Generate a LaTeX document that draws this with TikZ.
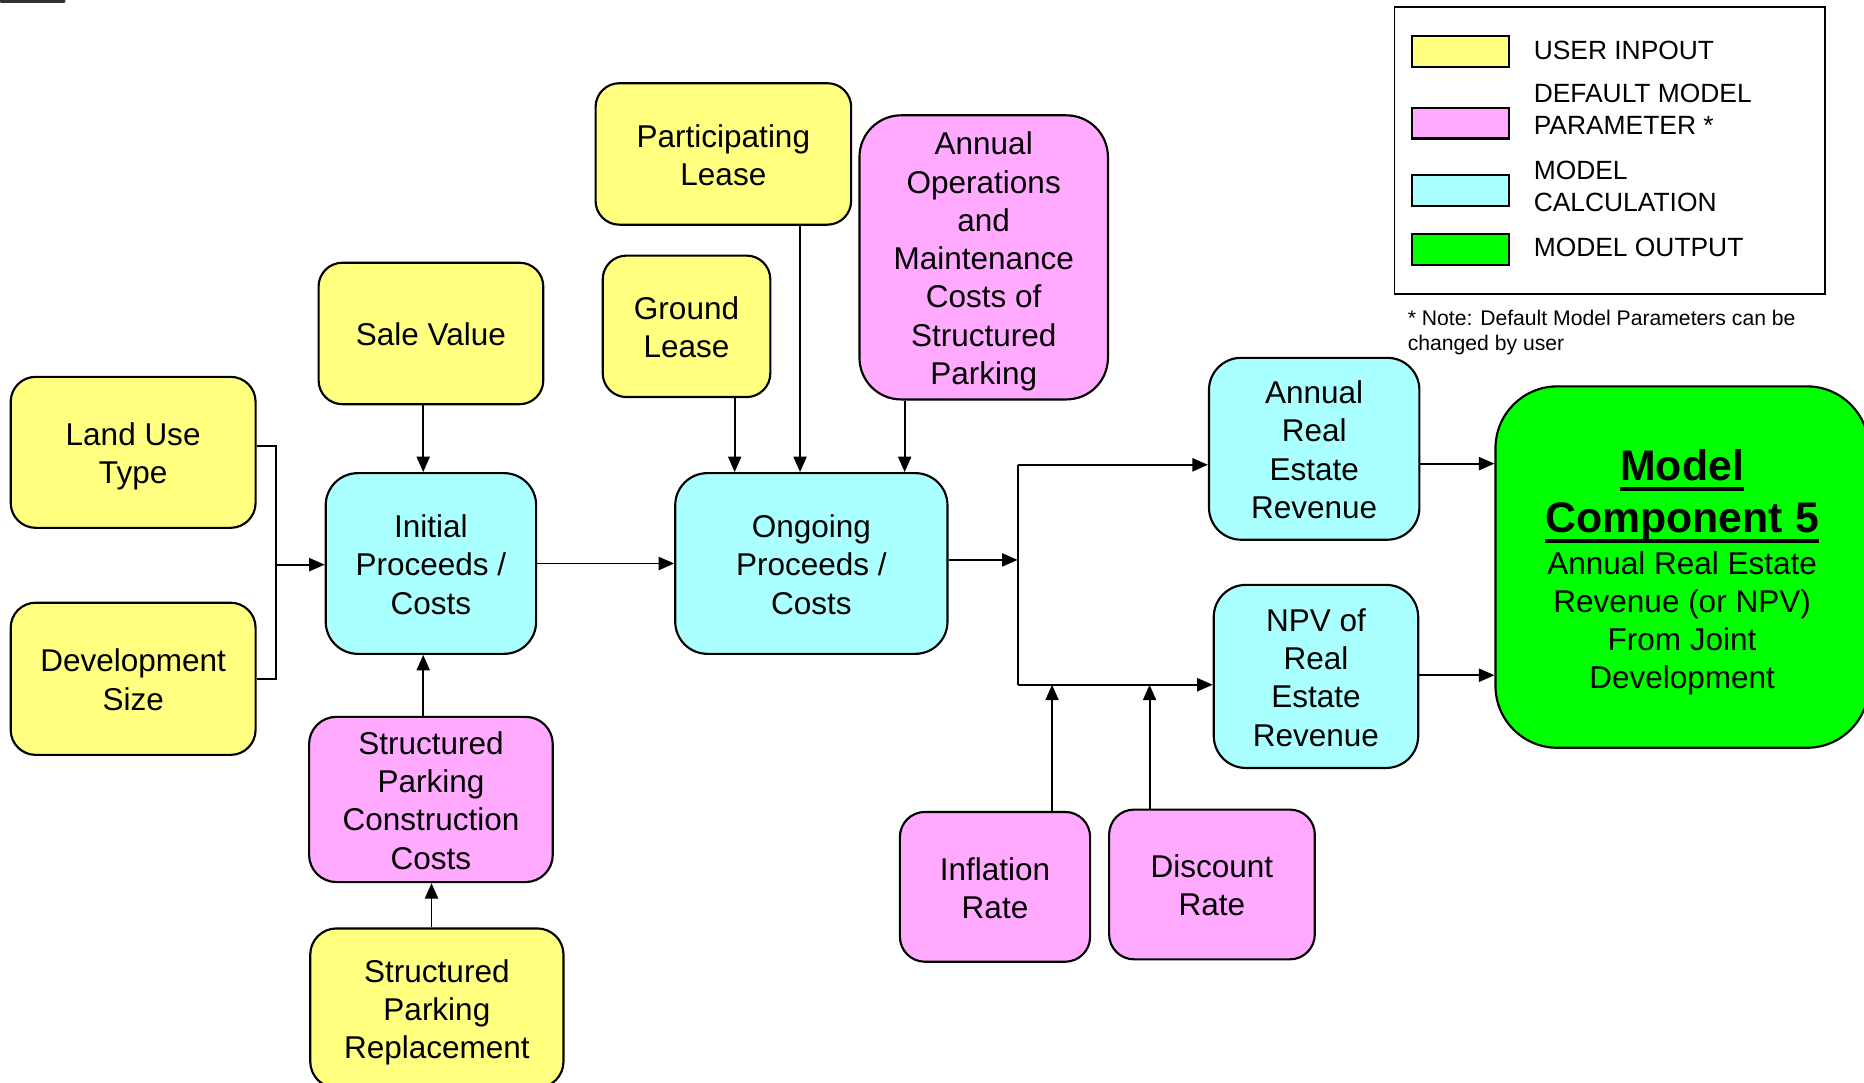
\documentclass[tikz,border=0pt]{standalone}
\usepackage{fontspec}
\setmainfont{Liberation Sans}
\usetikzlibrary{arrows.meta}

\definecolor{inyellow}{RGB}{255,255,128}
\definecolor{parpink}{RGB}{255,170,255}
\definecolor{calccyan}{RGB}{170,255,255}
\definecolor{outgreen}{RGB}{0,255,0}

\newcommand\bxfont{\fontsize{26.5}{32.2}\selectfont}
\newcommand\lgfont{\fontsize{22.2}{27}\selectfont}
\newcommand\ntfont{\fontsize{17.8}{21}\selectfont}
\newcommand\ttlfont{\fontsize{36}{43}\selectfont\bfseries}
% fixed height for the first line of a box label
\newcommand\fl{\rule{0pt}{26.3pt}}
% thick underline for the output title
\newcommand\thul[1]{\setbox0\hbox{#1}\rlap{\rule[-9pt]{\wd0}{3.4pt}}\box0}

\tikzset{
  box/.style={draw=black, line width=1.8pt, rounded corners=#1, inner sep=0pt,
              align=center, font=\bxfont,
              % fixed last-line depth keeps the label centred
              execute at end node={\rule[-5.6pt]{0pt}{0pt}}},
  box/.default=21pt,
  user/.style={box=#1, fill=inyellow}, user/.default=21pt,
  param/.style={box=#1, fill=parpink}, param/.default=21pt,
  calc/.style={box=#1, fill=calccyan}, calc/.default=21pt,
  outp/.style={box=#1, fill=outgreen}, outp/.default=21pt,
  swatch/.style={draw=black, line width=1.8pt, inner sep=0pt,
                 minimum width=81pt, minimum height=26pt},
  lgtext/.style={anchor=west, inner sep=0pt, align=left, font=\lgfont},
  conn/.style={line width=1.6pt},
  arr/.style={conn, -{Triangle[length=13pt,width=11pt]}}
}

\begin{document}
\begin{tikzpicture}[x=1pt,y=-1pt]
\useasboundingbox (0,0) rectangle (1568,911);

% small dark mark in the top left corner
\fill[black!80, rounded corners=1pt] (0,-3) rectangle (55,2.5);

% ---- inputs on the left
\node[user, minimum width=206pt, minimum height=127pt] (landuse) at (112,380.5) {\fl Land Use\\Type};
\node[user, minimum width=206pt, minimum height=128pt] (devsize) at (112,571) {\fl Development\\Size};
\node[user=20pt, minimum width=189pt, minimum height=119pt] (sale) at (362.5,280.5) {\fl Sale Value};
\node[calc=27pt, minimum width=177pt, minimum height=152pt] (initial) at (362.5,474) {\fl Initial\\Proceeds /\\Costs};
\node[param=23pt, minimum width=205pt, minimum height=139pt] (spcc) at (362.5,672.5) {\fl Structured\\Parking\\Construction\\Costs};
\node[user=22pt, minimum width=213pt, minimum height=134pt] (spr) at (367.5,848) {\fl Structured\\Parking\\Replacement};

% ---- ongoing proceeds and its inputs
\node[user=20pt, minimum width=215pt, minimum height=119pt] (plea) at (608.5,129.5) {\fl Participating\\Lease};
\node[user=20pt, minimum width=141pt, minimum height=119pt] (glea) at (577.5,274.5) {\fl Ground\\Lease};
\node[param=35pt, minimum width=209pt, minimum height=239pt] (aoms) at (827.5,216.5) {\fl Annual\\Operations\\and\\Maintenance\\Costs of\\Structured\\Parking};
\node[calc=27pt, minimum width=229pt, minimum height=152pt] (ongoing) at (682.5,474) {\fl Ongoing\\Proceeds /\\Costs};

% ---- revenue calculations
\node[calc=27pt, minimum width=177pt, minimum height=153pt] (arer) at (1105.5,377.5) {\fl Annual\\Real\\Estate\\Revenue};
\node[calc=27pt, minimum width=172pt, minimum height=154pt] (npv) at (1107,569) {\fl NPV of\\Real\\Estate\\Revenue};
\node[param, minimum width=160pt, minimum height=126pt] (infl) at (837,746) {\fl Inflation\\Rate};
\node[param, minimum width=173pt, minimum height=126pt] (disc) at (1019.5,744) {\fl Discount\\Rate};

% ---- output
\node[outp=52pt, minimum width=314pt, minimum height=304pt] (model) at (1415,477)
  {\rule{0pt}{35pt}{\ttlfont\thul{Model}}\\[8.8pt]{\ttlfont\thul{Component 5}}\\[3pt]Annual Real Estate\\Revenue (or NPV)\\From Joint\\Development};

% ---- legend
\node[draw=black, line width=1.6pt, inner sep=0pt, minimum width=362pt, minimum height=241pt] (legend) at (1354,126.5) {};
\node[swatch, fill=inyellow] (swU) at (1228.5,43) {};
\node[swatch, fill=parpink] (swP) at (1228.5,103.5) {};
\node[swatch, fill=calccyan] (swC) at (1228.5,160) {};
\node[swatch, fill=outgreen] (swO) at (1228.5,210) {};
\node[lgtext] (lgU) at (1290,42.5) {USER INPOUT};
\node[lgtext] (lgP) at (1290,92) {DEFAULT MODEL\\PARAMETER *};
\node[lgtext] (lgC) at (1290,157) {MODEL\\CALCULATION};
\node[lgtext] (lgO) at (1290,208.5) {MODEL OUTPUT};
\node[anchor=north west, inner sep=0pt, align=left, font=\ntfont] (note) at (1184,260.5)
  {* Note: Default Model Parameters can be\\changed by user};

% ---- connectors
\coordinate (luy) at (0,375);
\coordinate (dsy) at (0,571);
\coordinate (brk) at (232,475);
\draw[conn] (landuse.east |- luy) -| (brk) |- (devsize.east |- dsy);
\draw[arr] (brk) -- (initial.west |- brk);

\coordinate (xsv) at (356,0);
\coordinate (xsr) at (363,0);
\draw[arr] (xsv |- sale.south) -- (xsv |- initial.north);
\draw[arr] (xsv |- spcc.north) -- (xsv |- initial.south);
\draw[arr] (xsr |- spr.north) -- (xsr |- spcc.south);

\draw[arr] (initial.east) -- (ongoing.west);

\coordinate (xgl) at (618,0);
\coordinate (xpl) at (673,0);
\coordinate (xao) at (761,0);
\draw[arr] (xgl |- glea.south) -- (xgl |- ongoing.north);
\draw[arr] (xpl |- plea.south) -- (xpl |- ongoing.north);
\draw[arr] (xao |- aoms.south) -- (xao |- ongoing.north);

\coordinate (jm) at (856,471);
\coordinate (jt) at (856,391);
\coordinate (jb) at (856,576);
\draw[arr] (ongoing.east |- jm) -- (jm);
\draw[conn] (jt) -- (jb);
\draw[arr] (jt) -- (arer.west |- jt);
\draw[arr] (jb) -- (npv.west |- jb);

\coordinate (xin) at (885,0);
\coordinate (xdi) at (967,0);
\draw[arr] (xin |- infl.north) -- (xin |- jb);
\draw[arr] (xdi |- disc.north) -- (xdi |- jb);

\coordinate (ya) at (0,390);
\coordinate (yn) at (0,568);
\draw[arr] (arer.east |- ya) -- (model.west |- ya);
\draw[arr] (npv.east |- yn) -- (model.west |- yn);
\end{tikzpicture}
\end{document}
